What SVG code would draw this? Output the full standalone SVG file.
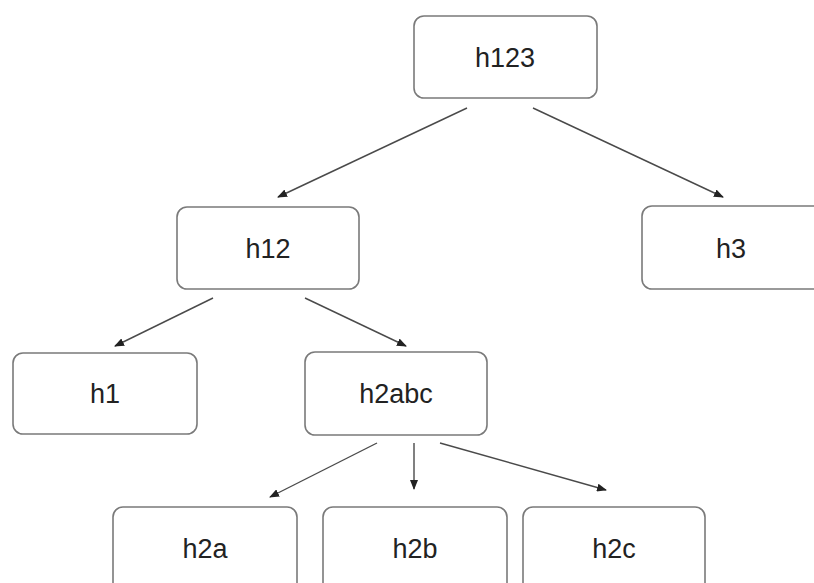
<svg xmlns="http://www.w3.org/2000/svg" width="814" height="583" viewBox="0 0 814 583">
  <style>
    .box { fill: #ffffff; stroke: #7a7a7a; stroke-width: 1.6; }
    .label { font-family: "Liberation Sans", Arial, sans-serif; font-size: 27px; fill: #222222; text-anchor: middle; }
    .edge { stroke: #4a4a4a; stroke-width: 1.4; fill: none; marker-end: url(#arrow); }
  </style>
  <defs>
    <marker id="arrow" markerUnits="userSpaceOnUse" markerWidth="10" markerHeight="8" refX="9" refY="4" orient="auto">
      <path d="M0,0 L10,4 L0,8 Z" fill="#222222"/>
    </marker>
  </defs>
  <rect width="814" height="583" fill="#ffffff"/>

  <g id="connectors">
    <line class="edge" x1="467" y1="108" x2="278" y2="197"/>
    <line class="edge" x1="533" y1="108" x2="723" y2="197"/>
    <line class="edge" x1="213" y1="298" x2="115" y2="346"/>
    <line class="edge" x1="305" y1="298" x2="406" y2="346"/>
    <line class="edge" x1="377" y1="443" x2="270" y2="497"/>
    <line class="edge" x1="414" y1="443" x2="414" y2="489"/>
    <line class="edge" x1="440" y1="443" x2="606" y2="490"/>
  </g>

  <g id="h123">
    <rect class="box" x="414" y="16" width="183" height="82" rx="10"/>
    <text class="label" x="505" y="67">h123</text>
  </g>
  <g id="h12">
    <rect class="box" x="177" y="207" width="182" height="82" rx="10"/>
    <text class="label" x="268" y="258">h12</text>
  </g>
  <g id="h3">
    <rect class="box" x="642" y="206" width="182" height="83" rx="10"/>
    <text class="label" x="731" y="258">h3</text>
  </g>
  <g id="h1">
    <rect class="box" x="13" y="353" width="184" height="81" rx="10"/>
    <text class="label" x="105" y="403">h1</text>
  </g>
  <g id="h2abc">
    <rect class="box" x="305" y="352" width="182" height="83" rx="10"/>
    <text class="label" x="396" y="403">h2abc</text>
  </g>
  <g id="h2a">
    <rect class="box" x="113" y="507" width="184" height="90" rx="10"/>
    <text class="label" x="205" y="558">h2a</text>
  </g>
  <g id="h2b">
    <rect class="box" x="323" y="507" width="184" height="90" rx="10"/>
    <text class="label" x="415" y="558">h2b</text>
  </g>
  <g id="h2c">
    <rect class="box" x="523" y="507" width="182" height="90" rx="10"/>
    <text class="label" x="614" y="558">h2c</text>
  </g>
</svg>
